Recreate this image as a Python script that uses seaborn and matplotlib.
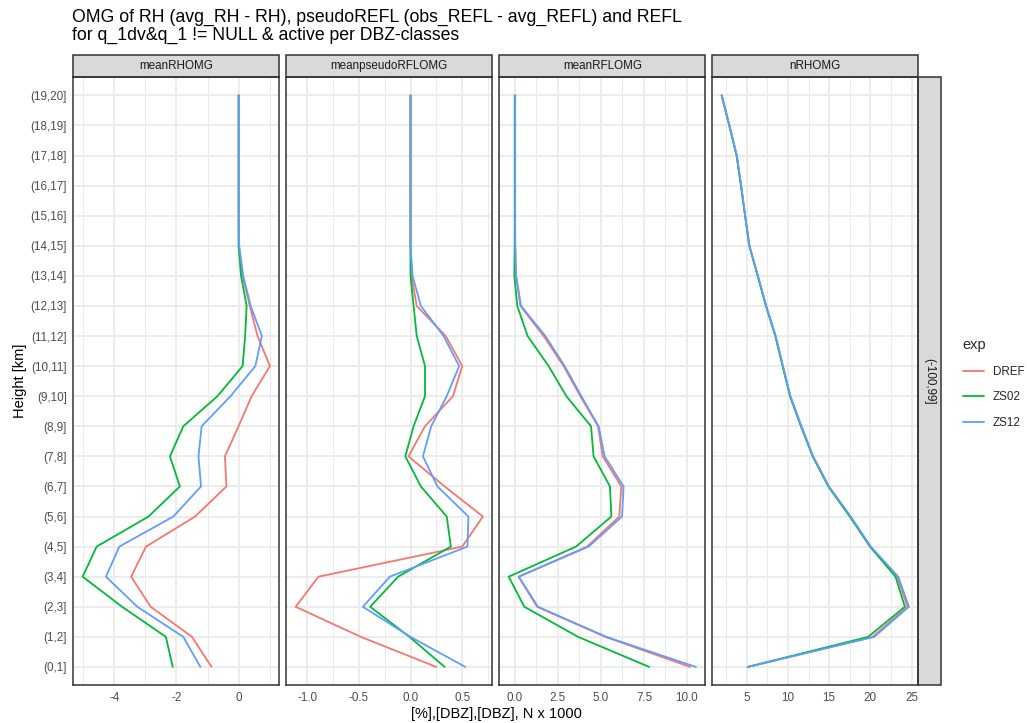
import numpy as np
import pandas as pd
import matplotlib
matplotlib.use("Agg")
import matplotlib.pyplot as plt
from matplotlib.patches import Rectangle
from matplotlib.lines import Line2D
from matplotlib.ticker import MultipleLocator, FormatStrFormatter
import seaborn as sns

# ---------------- data ----------------
height_labels = ["(0,1]", "(1,2]", "(2,3]", "(3,4]", "(4,5]", "(5,6]", "(6,7]", "(7,8]",
                 "(8,9]", "(9,10]", "(10,11]", "(11,12]", "(12,13]", "(13,14]", "(14,15]",
                 "(15,16]", "(16,17]", "(17,18]", "(18,19]", "(19,20]"]
experiments = ["DREF", "ZS02", "ZS12"]
panels = ["meanRHOMG", "meanpseudoRFLOMG", "meanRFLOMG", "nRHOMG"]
row_label = "(-100,99]"

rh_dref = [-0.87, -1.50, -2.83, -3.46, -2.98, -1.40, -0.39, -0.44, 0.00, 0.42,
           1.01, 0.61, 0.36, 0.13, 0.01, 0.00, 0.00, 0.00, 0.00, 0.00]
rh_zs02 = [-2.12, -2.34, -3.75, -5.02, -4.57, -2.90, -1.89, -2.21, -1.78, -0.68,
           0.13, 0.21, 0.26, 0.08, 0.00, 0.00, 0.00, 0.00, 0.00, 0.00]
rh_zs12 = [-1.23, -1.78, -3.26, -4.27, -3.84, -2.10, -1.21, -1.29, -1.19, -0.26,
           0.54, 0.75, 0.39, 0.15, 0.02, 0.01, 0.01, 0.01, 0.01, 0.01]

prf_dref = [0.25, -0.48, -1.11, -0.89, 0.50, 0.70, 0.33, -0.02, 0.14, 0.41,
            0.50, 0.34, 0.06, 0.01, 0.00, 0.00, 0.00, 0.00, 0.00, 0.00]
prf_zs02 = [0.33, -0.01, -0.39, -0.12, 0.39, 0.35, 0.10, -0.05, 0.03, 0.14,
            0.14, 0.06, 0.03, 0.00, 0.00, 0.00, 0.00, 0.00, 0.00, 0.00]
prf_zs12 = [0.53, 0.00, -0.46, -0.20, 0.55, 0.56, 0.26, 0.12, 0.20, 0.35,
            0.47, 0.32, 0.10, 0.02, 0.00, 0.00, 0.00, 0.00, 0.00, 0.00]

rf_dref = [10.19, 5.26, 1.30, 0.23, 4.20, 6.07, 6.19, 5.11, 4.84, 3.81,
           2.84, 1.68, 0.33, 0.08, 0.03, 0.02, 0.02, 0.02, 0.02, 0.02]
rf_zs02 = [7.81, 3.68, 0.56, -0.35, 3.56, 5.61, 5.53, 4.58, 4.43, 3.00,
           1.97, 0.75, 0.15, -0.02, 0.00, 0.00, 0.00, 0.00, 0.00, 0.00]
rf_zs12 = [10.52, 5.32, 1.35, 0.23, 4.29, 6.23, 6.32, 5.22, 4.87, 3.87,
           2.90, 1.78, 0.37, 0.08, 0.03, 0.03, 0.03, 0.03, 0.03, 0.03]

n_dref = [5.12, 20.25, 24.50, 23.26, 20.00, 17.58, 14.94, 13.03, 11.61, 10.27,
          9.38, 8.49, 7.35, 6.34, 5.32, 4.80, 4.31, 3.78, 2.89, 1.96]
n_zs02 = [5.12, 19.73, 24.19, 23.05, 19.95, 17.50, 14.90, 13.00, 11.58, 10.25,
          9.35, 8.47, 7.33, 6.33, 5.31, 4.80, 4.30, 3.77, 2.88, 1.96]
n_zs12 = [5.15, 20.46, 24.68, 23.38, 20.05, 17.62, 14.98, 13.06, 11.64, 10.30,
          9.40, 8.52, 7.37, 6.36, 5.33, 4.82, 4.33, 3.80, 2.90, 1.97]

series = {
    "meanRHOMG": [rh_dref, rh_zs02, rh_zs12],
    "meanpseudoRFLOMG": [prf_dref, prf_zs02, prf_zs12],
    "meanRFLOMG": [rf_dref, rf_zs02, rf_zs12],
    "nRHOMG": [n_dref, n_zs02, n_zs12],
}

rows = []
for p in panels:
    for e, vals in zip(experiments, series[p]):
        for i, v in enumerate(vals):
            rows.append({"variable": p, "exp": e, "height": i + 1, "value": v})
df = pd.DataFrame(rows)

# ---------------- style ----------------
sns.set_style("white")
plt.rcParams["font.family"] = ["Liberation Sans", "DejaVu Sans"]
plt.rcParams["axes.unicode_minus"] = False

palette = {"DREF": "#F8766D", "ZS02": "#00BA38", "ZS12": "#619CFF"}
W, H = 1027, 723
fig = plt.figure(figsize=(W / 100, H / 100), dpi=100)

left_px, right_px = 73.3, 918.3
top_px, bot_px = 77.3, 685.0
gap_px = 7.0
pw = (right_px - left_px - 3 * gap_px) / 4
ph = bot_px - top_px

major_steps = [2, 0.5, 2.5, 5]
fmts = ["%g", "%.1f", "%.1f", "%g"]

axes = []
for k, p in enumerate(panels):
    x0 = left_px + k * (pw + gap_px)
    ax = fig.add_axes([x0 / W, 1 - bot_px / H, pw / W, ph / H])
    axes.append(ax)
    sub = df[df["variable"] == p]
    sns.lineplot(data=sub, x="value", y="height", hue="exp", palette=palette,
                 hue_order=experiments, orient="y", estimator=None, sort=True,
                 linewidth=1.3, legend=False, ax=ax)
    vmin, vmax = sub["value"].min(), sub["value"].max()
    pad = 0.05 * (vmax - vmin)
    ax.set_xlim(vmin - pad, vmax + pad)
    ax.set_ylim(0.4, 20.6)
    ax.xaxis.set_major_locator(MultipleLocator(major_steps[k]))
    ax.xaxis.set_minor_locator(MultipleLocator(major_steps[k] / 2))
    ax.xaxis.set_major_formatter(FormatStrFormatter(fmts[k]))
    ax.set_yticks(range(1, 21))
    if k == 0:
        ax.set_yticklabels(height_labels)
    else:
        ax.set_yticklabels([])
        ax.tick_params(axis="y", length=0)
    ax.grid(True, which="major", color="#EBEBEB", linewidth=1.3)
    ax.grid(True, which="minor", axis="x", color="#EBEBEB", linewidth=0.7)
    ax.set_axisbelow(True)
    ax.tick_params(axis="both", which="major", length=2.6, width=1.0, color="#333333",
                   labelsize=8.4, labelcolor="#4D4D4D", pad=2.2)
    ax.tick_params(axis="x", which="minor", length=0)
    for s in ax.spines.values():
        s.set_color("#333333")
        s.set_linewidth(1.1)
    ax.set_xlabel("")
    ax.set_ylabel("")
    # top strip
    sh = 22.6 / ph
    ax.add_patch(Rectangle((0, 1), 1, sh, transform=ax.transAxes, clip_on=False,
                           facecolor="#D9D9D9", edgecolor="#333333", linewidth=1.1))
    ax.text(0.5, 1 + sh / 2, p, transform=ax.transAxes, ha="center", va="center",
            fontsize=8.4, color="#1A1A1A")

# right strip
ax = axes[-1]
sw = 22.7 / pw
ax.add_patch(Rectangle((1, 0), sw, 1, transform=ax.transAxes, clip_on=False,
                       facecolor="#D9D9D9", edgecolor="#333333", linewidth=1.1))
ax.text(1 + sw / 2, 0.5, row_label, transform=ax.transAxes, ha="center", va="center",
        rotation=-90, fontsize=8.4, color="#1A1A1A")

# titles
fig.text(72 / W, 1 - 9 / H, "OMG of RH (avg_RH - RH), pseudoREFL (obs_REFL - avg_REFL) and REFL\n"
         "for q_1dv&q_1 != NULL & active per DBZ-classes",
         ha="left", va="top", fontsize=12.7, color="black", linespacing=1.05)
fig.text(20 / W, 1 - 381 / H, "Height [km]", rotation=90, ha="center", va="center",
         fontsize=10.5, color="black")
fig.text(496 / W, 1 - 714 / H, "[%],[DBZ],[DBZ], N x 1000", ha="center", va="center",
         fontsize=10.5, color="black")

# legend
handles = [Line2D([0], [0], color=palette[e], linewidth=1.3) for e in experiments]
leg = fig.legend(handles, experiments, title="exp", loc="upper left",
                 bbox_to_anchor=(952 / W, 1 - 328 / H), frameon=False,
                 fontsize=8.4, title_fontsize=10.5, alignment="left",
                 handlelength=1.8, handletextpad=0.8, labelspacing=1.15)

fig.savefig("out.png", dpi=100)
